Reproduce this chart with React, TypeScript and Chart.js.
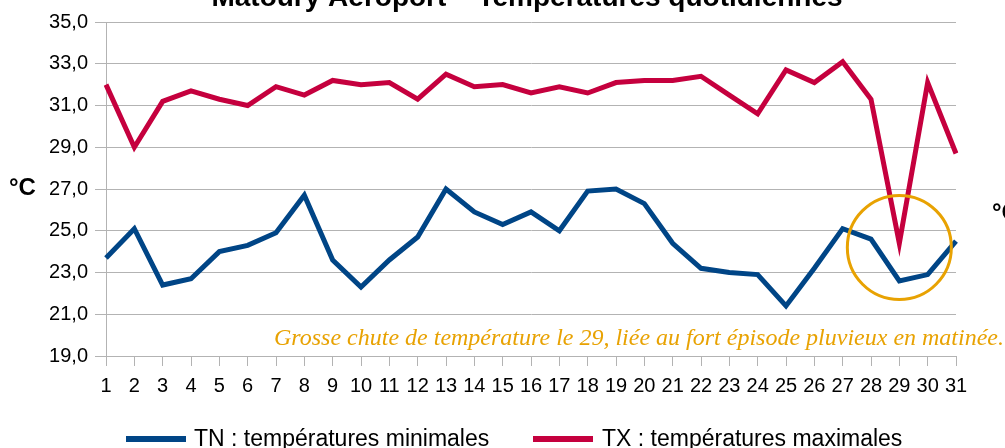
import React, { useEffect, useRef } from "react";
import { Chart, registerables } from "chart.js";

Chart.register(...registerables);

const days: string[] = Array.from({ length: 31 }, (_, i) => String(i + 1));

const tnValues: number[] = [
  23.7, 25.1, 22.4, 22.7, 24.0, 24.3, 24.9, 26.7, 23.6, 22.3,
  23.6, 24.7, 27.0, 25.9, 25.3, 25.9, 25.0, 26.9, 27.0, 26.3,
  24.4, 23.2, 23.0, 22.9, 21.4, 23.2, 25.1, 24.6, 22.6, 22.9, 24.5,
];

const txValues: number[] = [
  32.0, 29.0, 31.2, 31.7, 31.3, 31.0, 31.9, 31.5, 32.2, 32.0,
  32.1, 31.3, 32.5, 31.9, 32.0, 31.6, 31.9, 31.6, 32.1, 32.2,
  32.2, 32.4, 31.5, 30.6, 32.7, 32.1, 33.1, 31.3, 24.4, 32.1, 28.7,
];

const seriesLabels: string[] = ["TN : températures minimales", "TX : températures maximales"];
const seriesColors: string[] = ["#004586", "#c5003e"];

const titleText = "Matoury Aéroport – Températures quotidiennes";
const axisTitle = "°C";
const noteText = "Grosse chute de température le 29, liée au fort épisode pluvieux en matinée.";
const highlightDay = "29";
const highlightValue = 24.2;

const yMin = 19;
const yMax = 35;
const yStep = 2;

const ORANGE = "#e8a202";
const SANS = "'Liberation Sans', Arial, sans-serif";
const SERIF = "'Liberation Serif', 'Times New Roman', serif";

const decorPlugin = {
  id: "decor",
  afterDatasetsDraw(chart: any) {
    const ctx = chart.ctx as CanvasRenderingContext2D;
    const xs = chart.scales.x;
    const ys = chart.scales.y;
    const cx = xs.getPixelForValue(days.indexOf(highlightDay));
    const cy = ys.getPixelForValue(highlightValue);
    ctx.save();
    ctx.beginPath();
    ctx.arc(cx, cy, 52, 0, Math.PI * 2);
    ctx.strokeStyle = ORANGE;
    ctx.lineWidth = 3;
    ctx.stroke();
    ctx.restore();
  },
  afterDraw(chart: any) {
    const ctx = chart.ctx as CanvasRenderingContext2D;
    ctx.save();
    // title
    ctx.fillStyle = "#000";
    ctx.font = `bold 28px ${SANS}`;
    ctx.textAlign = "center";
    ctx.textBaseline = "alphabetic";
    ctx.fillText(titleText, 527, 6);
    // axis titles
    ctx.font = `bold 24px ${SANS}`;
    ctx.textAlign = "left";
    ctx.textBaseline = "middle";
    ctx.fillText(axisTitle, 9, 188);
    ctx.fillText(axisTitle, 992, 213);
    // note
    ctx.font = `italic 24px ${SERIF}`;
    ctx.fillStyle = ORANGE;
    ctx.textAlign = "right";
    ctx.textBaseline = "alphabetic";
    ctx.fillText(noteText, 1004, 345);
    // legend
    const items = [
      { x: 126, textX: 194 },
      { x: 533, textX: 602 },
    ];
    items.forEach((it, i) => {
      ctx.fillStyle = seriesColors[i];
      ctx.fillRect(it.x, 436, 60, 6);
      ctx.fillStyle = "#000";
      ctx.font = `23px ${SANS}`;
      ctx.textAlign = "left";
      ctx.textBaseline = "middle";
      ctx.fillText(seriesLabels[i], it.textX, 440);
    });
    ctx.restore();
  },
};

export default function App() {
  const ref = useRef<HTMLCanvasElement | null>(null);
  useEffect(() => {
    if (!ref.current) return;
    const chart = new Chart(ref.current, {
      type: "line",
      data: {
        labels: days,
        datasets: [
          {
            label: seriesLabels[0],
            data: tnValues,
            borderColor: seriesColors[0],
            backgroundColor: seriesColors[0],
            borderWidth: 5,
            pointRadius: 0,
            tension: 0,
          },
          {
            label: seriesLabels[1],
            data: txValues,
            borderColor: seriesColors[1],
            backgroundColor: seriesColors[1],
            borderWidth: 5,
            pointRadius: 0,
            tension: 0,
          },
        ],
      },
      options: {
        animation: false,
        responsive: false,
        layout: { padding: { top: 22, right: 49, left: 0, bottom: 0 } },
        plugins: { legend: { display: false }, title: { display: false }, tooltip: { enabled: false } },
        scales: {
          x: {
            offset: false,
            grid: { display: true, drawOnChartArea: false, drawTicks: true, tickLength: 10, color: "#b3b3b3" },
            border: { display: true, color: "#b3b3b3" },
            ticks: { color: "#000", font: { family: SANS, size: 20 }, padding: 8, maxRotation: 0, autoSkip: false },
            afterFit: (s: any) => { s.height = 92; },
          },
          y: {
            min: yMin,
            max: yMax,
            grid: { color: "#b3b3b3", tickLength: 11 },
            border: { display: true, color: "#b3b3b3" },
            ticks: {
              stepSize: yStep,
              color: "#000",
              font: { family: SANS, size: 20 },
              padding: 7,
              callback: (v: any) => Number(v).toFixed(1).replace(".", ","),
            },
            afterFit: (s: any) => { s.width = 106; },
          },
        },
      },
      plugins: [decorPlugin],
    });
    return () => chart.destroy();
  }, []);
  return (
    <div style={{ position: "absolute", left: 0, top: 0, width: 1005, height: 448 }}>
      <canvas ref={ref} width={1005} height={448} style={{ display: "block" }} />
    </div>
  );
}
